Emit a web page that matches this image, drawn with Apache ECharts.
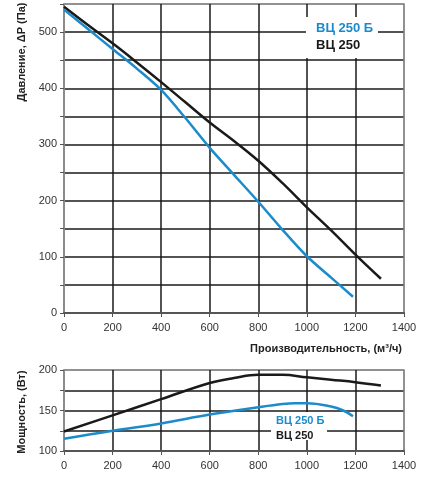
<!DOCTYPE html>
<html><head><meta charset="utf-8">
<script src="https://cdn.jsdelivr.net/npm/echarts@6/dist/echarts.min.js"></script>
<style>html,body{margin:0;padding:0;background:#fff}#c{width:426px;height:488px}</style>
</head><body><div id="c"></div>
<script>
var nameB = 'ВЦ 250 Б';
var nameA = 'ВЦ 250';
var xTicks = [0, 200, 400, 600, 800, 1000, 1200, 1400];
var pressureA = [[0,545],[100,512],[200,480],[300,446],[400,411],[500,375],[600,339],[700,306],[800,271],[900,231],[1000,188],[1100,147],[1200,104],[1305,61]];
var pressureB = [[0,540],[100,505],[200,470],[300,435],[400,397],[500,347],[600,294],[700,246],[800,198],[900,148],[1000,101],[1100,63],[1190,29]];
var powerA = [[0,124],[200,144],[400,164],[600,184],[700,190],[800,194],[900,194],[1000,191],[1100,188],[1200,185],[1305,181]];
var powerB = [[0,115],[200,125],[400,134],[600,145],[800,154],[900,158],[950,159],[1000,159],[1100,155],[1150,150],[1190,143]];

var F = 'Arial, "Liberation Sans", sans-serif';
var blue = '#1b8bcb', black = '#1a1a1a';
function colors(n){ var a=[]; for(var i=0;i<n;i++) a.push((i===0||i===n-1)?'#8a8a8a':'#1a1a1a'); return a; }

var chart = echarts.init(document.getElementById('c'));
var xAxisBase = function(gi){ return {
  type:'value', gridIndex:gi, min:xTicks[0], max:xTicks[xTicks.length-1], interval:xTicks[1]-xTicks[0],
  axisLine:{show:true, lineStyle:{color:'#555', width:2}},
  axisTick:{show:true, length:4, lineStyle:{color:'#555'}},
  axisLabel:{color:'#333', fontSize:11, fontFamily:F, margin:9, formatter:function(v){return String(v);}},
  splitLine:{show:true, lineStyle:{color:colors(8), width:1.5}}
};};
chart.setOption({
  animation:false,
  grid:[
    {left:64, right:22, top:4, height:309, show:true, borderColor:'#8a8a8a', borderWidth:1.5},
    {left:64, right:22, top:370, height:81, show:true, borderColor:'#8a8a8a', borderWidth:1.5}
  ],
  xAxis:[xAxisBase(0), xAxisBase(1)],
  yAxis:[
    {type:'value', gridIndex:0, min:0, max:550, interval:50,
     axisLine:{show:true, lineStyle:{color:'#8a8a8a', width:1.5}},
     axisTick:{show:true, length:4, lineStyle:{color:'#555'}},
     axisLabel:{color:'#333', fontSize:11, fontFamily:F, margin:7, formatter:function(v){return v%100===0?String(v):'';}},
     splitLine:{show:true, lineStyle:{color:colors(12), width:1.5}}},
    {type:'value', gridIndex:1, min:100, max:200, interval:25,
     axisLine:{show:true, lineStyle:{color:'#8a8a8a', width:1.5}},
     axisTick:{show:true, length:4, lineStyle:{color:'#555'}},
     axisLabel:{color:'#333', fontSize:11, fontFamily:F, margin:7, formatter:function(v){return v%50===0?String(v):'';}},
     splitLine:{show:true, lineStyle:{color:colors(5), width:1.5}}}
  ],
  series:[
    {name:nameA, type:'line', xAxisIndex:0, yAxisIndex:0, data:pressureA, smooth:0.4, showSymbol:false, lineStyle:{color:black, width:2.5}, z:5},
    {name:nameB, type:'line', xAxisIndex:0, yAxisIndex:0, data:pressureB, smooth:0.3, showSymbol:false, lineStyle:{color:blue, width:2.5}, z:5},
    {name:nameA, type:'line', xAxisIndex:1, yAxisIndex:1, data:powerA, smooth:0.4, showSymbol:false, lineStyle:{color:black, width:2.5}, z:5},
    {name:nameB, type:'line', xAxisIndex:1, yAxisIndex:1, data:powerB, smooth:0.4, showSymbol:false, lineStyle:{color:blue, width:2.5}, z:5}
  ],
  graphic:[
    {type:'rect', shape:{x:306, y:17, width:72, height:41}, style:{fill:'#fff'}, z:10},
    {type:'text', left:316, top:22, style:{text:nameB, fill:blue, font:'bold 13px '+F}, z:11},
    {type:'text', left:316, top:39, style:{text:nameA, fill:black, font:'bold 13px '+F}, z:11},
    {type:'rect', shape:{x:271, y:412, width:56, height:28}, style:{fill:'#fff'}, z:10},
    {type:'text', left:276, top:415, style:{text:nameB, fill:blue, font:'bold 11px '+F}, z:11},
    {type:'text', left:276, top:430, style:{text:nameA, fill:black, font:'bold 11px '+F}, z:11},
    {type:'text', right:24, top:343, style:{text:'Производительность, (м³/ч)', fill:'#222', font:'bold 11px '+F}, z:11},
    {type:'text', x:22, y:52, rotation:Math.PI/2, style:{text:'Давление, ΔP (Па)', fill:'#222', font:'bold 11px '+F, align:'center', verticalAlign:'middle'}, z:11},
    {type:'text', x:22, y:412, rotation:Math.PI/2, style:{text:'Мощность, (Вт)', fill:'#222', font:'bold 11px '+F, align:'center', verticalAlign:'middle'}, z:11}
  ]
});
</script></body></html>
